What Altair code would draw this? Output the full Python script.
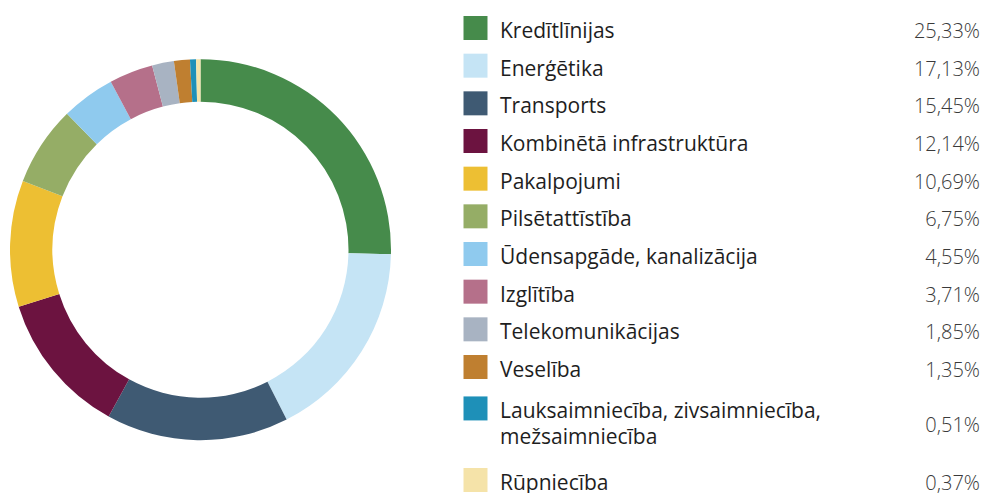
import altair as alt
import pandas as pd

categories = [
    "Kredītlīnijas",
    "Enerģētika",
    "Transports",
    "Kombinētā infrastruktūra",
    "Pakalpojumi",
    "Pilsētattīstība",
    "Ūdensapgāde, kanalizācija",
    "Izglītība",
    "Telekomunikācijas",
    "Veselība",
    "Lauksaimniecība, zivsaimniecība,\nmežsaimniecība",
    "Rūpniecība",
]
shares = [25.33, 17.13, 15.45, 12.14, 10.69, 6.75, 4.55, 3.71, 1.85, 1.35, 0.51, 0.37]
value_labels = ["25,33%", "17,13%", "15,45%", "12,14%", "10,69%", "6,75%",
                "4,55%", "3,71%", "1,85%", "1,35%", "0,51%", "0,37%"]
colors = ["#468B4B", "#C5E4F5", "#3F5A73", "#6C1340", "#EDBF33", "#95AD66",
          "#8FCAEE", "#B5708A", "#A8B3C2", "#BF7F30", "#1E90B8", "#F5E3A9"]

# legend row slots (the two-line entry takes extra room)
slots = []
s = 0.0
for i, c in enumerate(categories):
    slots.append(s)
    if "\n" in c:
        s += 1.9
    elif i + 1 < len(categories) and "\n" in categories[i + 1]:
        s += 1.1
    else:
        s += 1.0

df = pd.DataFrame({
    "category": categories,
    "share": shares,
    "vlabel": value_labels,
    "order": list(range(len(categories))),
    "slot": slots,
    "vslot": [sl + (0.35 if "\n" in c else 0) for sl, c in zip(slots, categories)],
})

color_scale = alt.Scale(domain=categories, range=colors)
yscale = alt.Scale(domain=[0, 12], range=[16, 468])
FONT = "Open Sans"

base = alt.Chart(df)

donut = base.mark_arc(outerRadius=190.5, innerRadius=148, stroke=None).encode(
    theta=alt.Theta("share:Q", stack=True),
    order=alt.Order("order:Q"),
    color=alt.Color("category:N", scale=color_scale, legend=None),
    x=alt.value(200.5),
    y=alt.value(249.7),
)

squares = base.mark_point(shape="square", filled=True, size=576, opacity=1, yOffset=12).encode(
    x=alt.value(475.5),
    y=alt.Y("slot:Q", scale=yscale, axis=None),
    color=alt.Color("category:N", scale=color_scale, legend=None),
)

labels = base.mark_text(align="left", baseline="alphabetic", dy=22, font=FONT,
                        fontSize=21, color="#1E1E1E", lineBreak="\n", lineHeight=26).encode(
    x=alt.value(500),
    y=alt.Y("slot:Q", scale=yscale, axis=None),
    text="category:N",
)

values = base.mark_text(align="right", baseline="alphabetic", dy=22, font=FONT,
                        fontSize=20, fontWeight=300, color="#3A3A3A").encode(
    x=alt.value(980),
    y=alt.Y("vslot:Q", scale=yscale, axis=None),
    text="vlabel:N",
)

chart = alt.layer(donut, squares, labels, values).properties(
    width=984, height=493, padding=0,
    autosize=alt.AutoSizeParams(type="none"),
).configure_view(stroke=None)

chart.save("out.html", embed_options={"renderer": "svg", "actions": False})
